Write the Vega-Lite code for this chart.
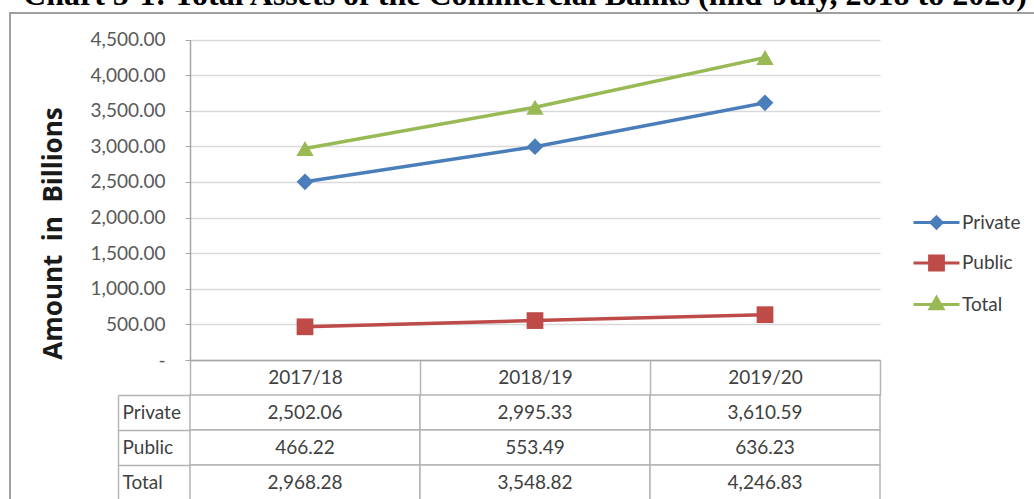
{
  "$schema": "https://vega.github.io/schema/vega-lite/v6.json",
  "width": 1024,
  "height": 486,
  "autosize": "none",
  "padding": {"left": 10, "top": 13, "right": 0, "bottom": 0},
  "background": "white",
  "title": {
    "text": "Chart 5-1: Total Assets of the Commercial Banks (mid-July, 2018 to 2020)",
    "font": "Liberation Serif",
    "fontSize": 32,
    "fontWeight": "bold",
    "color": "black",
    "anchor": "middle",
    "frame": "group",
    "baseline": "alphabetic",
    "offset": 0,
    "dy": 33,
    "dx": 3
  },
  "data": {
    "values": [
      {"series": "Private", "year": "2017/18", "value": 2502.06},
      {"series": "Private", "year": "2018/19", "value": 2995.33},
      {"series": "Private", "year": "2019/20", "value": 3610.59},
      {"series": "Public", "year": "2017/18", "value": 466.22},
      {"series": "Public", "year": "2018/19", "value": 553.49},
      {"series": "Public", "year": "2019/20", "value": 636.23},
      {"series": "Total", "year": "2017/18", "value": 2968.28},
      {"series": "Total", "year": "2018/19", "value": 3548.82},
      {"series": "Total", "year": "2019/20", "value": 4246.83}
    ]
  },
  "layer": [
    {
      "layer": [
        {
          "mark": {"type": "line", "strokeWidth": 3.5},
          "encoding": {
            "x": {
              "field": "year", "type": "nominal",
              "scale": {"type": "band", "domain": ["2017/18", "2018/19", "2019/20"], "range": [180, 870], "paddingInner": 0, "paddingOuter": 0},
              "axis": {
                "orient": "bottom", "offset": -139, "title": null,
                "domain": true, "domainColor": "#a6a6a6", "domainWidth": 1.5,
                "ticks": true, "tickBand": "extent", "tickSize": 35, "tickColor": "#b4b4b4", "tickWidth": 1.5,
                "labelFont": "Lato", "labelFontSize": 19, "labelColor": "#404040",
                "labelAngle": 0, "labelBaseline": "middle", "labelPadding": -17.5, "grid": false
              }
            },
            "y": {
              "field": "value", "type": "quantitative",
              "scale": {"domain": [0, 4500], "range": [347, 26.5], "nice": false, "zero": true},
              "axis": {
                "orient": "left", "offset": -180,
                "values": [0, 500, 1000, 1500, 2000, 2500, 3000, 3500, 4000, 4500],
                "labelExpr": "datum.value == 0 ? '-\u00a0\u00a0\u00a0' : format(datum.value, ',.2f')",
                "labelFont": "Lato", "labelFontSize": 19, "labelColor": "#595959", "labelPadding": 20,
                "tickSize": 5, "tickColor": "#a6a6a6", "domainColor": "#a6a6a6", "domainWidth": 1.5,
                "grid": true, "gridColor": "#d9d9d9", "gridWidth": 1.5,
                "title": "Amount\u00a0\u00a0in\u00a0\u00a0Billions", "titleFont": "Open Sans", "titleFontWeight": "bold", "titleFontSize": 26,
                "titleColor": "#1a1a1a", "titleX": -137, "titleY": 220, "titleAngle": -90,
                "titleAlign": "center", "titleBaseline": "middle"
              }
            },
            "color": {
              "field": "series", "type": "nominal",
              "scale": {"domain": ["Private", "Public", "Total"], "range": ["#4a7ebb", "#be4b48", "#98b954"]},
              "legend": {
                "orient": "none", "legendX": 902, "legendY": 185, "title": null, "padding": 0,
                "symbolSize": 2116, "labelFont": "Lato", "labelFontSize": 19, "labelColor": "#404040",
                "labelOffset": 1, "rowPadding": 3.5,
                "encode": {
                  "symbols": {
                    "update": {
                      "shape": {"signal": "datum.value === 'Private' ? 'M-1,0H1M0,-0.24L0.24,0L0,0.24L-0.24,0Z' : datum.value === 'Public' ? 'M-1,0H1M-0.3,-0.3H0.3V0.3H-0.3Z' : 'M-1,0H1M0,-0.3L0.28,0.19H-0.28Z'"},
                      "size": {"value": 2116},
                      "stroke": {"scale": "color", "field": "value"},
                      "fill": {"scale": "color", "field": "value"},
                      "strokeWidth": {"value": 3},
                      "opacity": {"value": 1}
                    }
                  }
                }
              }
            }
          }
        },
        {
          "transform": [{"filter": {"field": "series", "equal": "Private"}}],
          "mark": {"type": "point", "filled": true, "size": 280, "opacity": 1, "shape": "diamond"},
          "encoding": {
            "x": {"field": "year", "type": "nominal"},
            "y": {"field": "value", "type": "quantitative"},
            "color": {"field": "series", "type": "nominal"}
          }
        },
        {
          "transform": [{"filter": {"field": "series", "equal": "Public"}}],
          "mark": {"type": "point", "filled": true, "size": 280, "opacity": 1, "shape": "square"},
          "encoding": {
            "x": {"field": "year", "type": "nominal"},
            "y": {"field": "value", "type": "quantitative"},
            "color": {"field": "series", "type": "nominal"}
          }
        },
        {
          "transform": [{"filter": {"field": "series", "equal": "Total"}}],
          "mark": {"type": "point", "filled": true, "size": 300, "opacity": 1, "shape": "triangle-up"},
          "encoding": {
            "x": {"field": "year", "type": "nominal"},
            "y": {"field": "value", "type": "quantitative"},
            "color": {"field": "series", "type": "nominal"}
          }
        }
      ]
    },
    {
      "layer": [
        {
          "mark": {"type": "rect", "fill": "white", "stroke": "#b4b4b4", "strokeWidth": 1.5},
          "encoding": {
            "x": {"field": "year", "type": "nominal"},
            "y": {
              "field": "series", "type": "nominal",
              "scale": {"type": "band", "domain": ["Private", "Public", "Total"], "range": [382, 487], "paddingInner": 0, "paddingOuter": 0},
              "axis": {
                "orient": "left", "offset": -180, "title": null, "domain": false, "grid": false,
                "ticks": true, "tickBand": "extent", "tickSize": 72, "tickColor": "#b4b4b4", "tickWidth": 1.5,
                "labelAlign": "left", "labelPadding": -4, "labelBaseline": "middle",
                "labelFont": "Lato", "labelFontSize": 19, "labelColor": "#404040"
              }
            }
          }
        },
        {
          "mark": {"type": "text", "font": "Lato", "fontSize": 19, "color": "#404040", "align": "center", "baseline": "middle"},
          "encoding": {
            "x": {"field": "year", "type": "nominal"},
            "y": {
              "field": "series", "type": "nominal",
              "axis": {
                "orient": "left", "offset": -108, "title": null, "domain": true, "domainColor": "#b4b4b4", "domainWidth": 1.5,
                "ticks": false, "labels": false, "grid": false
              }
            },
            "text": {"field": "value", "type": "quantitative", "format": ",.2f"}
          }
        }
      ],
      "resolve": {"axis": {"y": "independent"}}
    }
  ],
  "resolve": {"scale": {"y": "independent"}, "axis": {"y": "independent"}},
  "config": {
    "view": {"stroke": "#a0a0a0", "strokeWidth": 2, "strokeDash": [1024, 1510, 486]},
    "legend": {"padding": 0}
  }
}
